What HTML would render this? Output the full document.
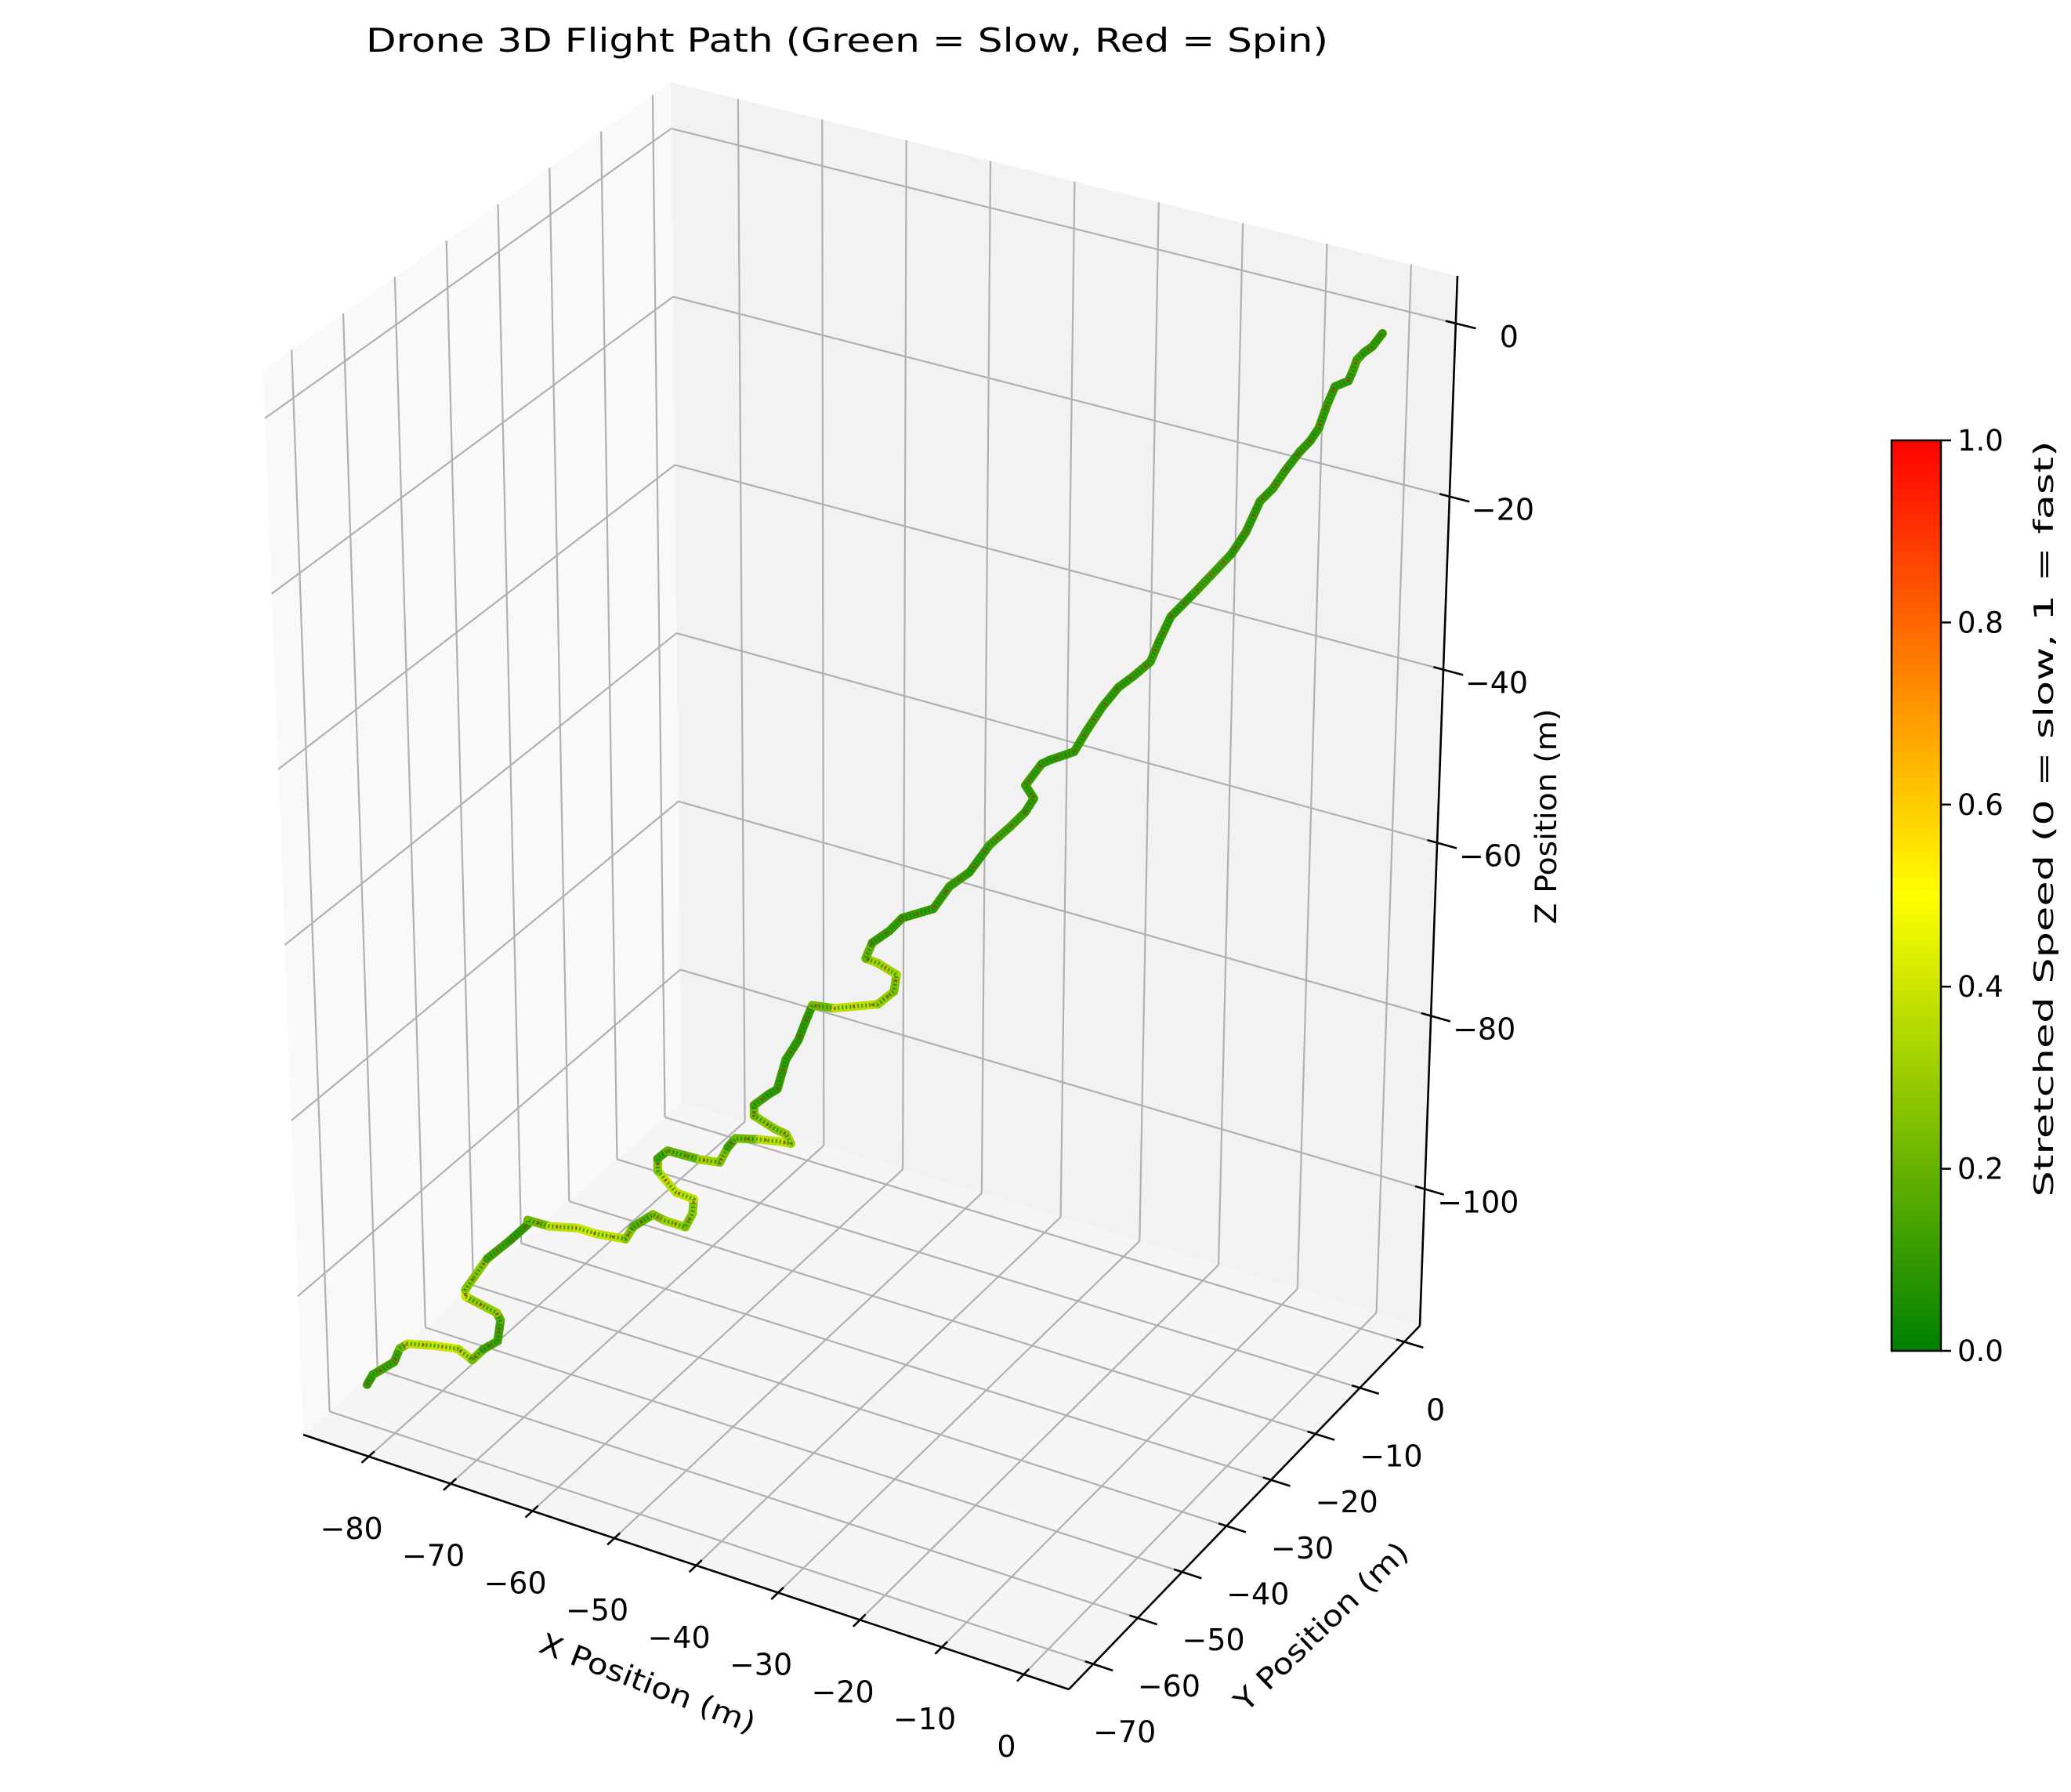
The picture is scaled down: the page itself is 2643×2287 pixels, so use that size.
<!DOCTYPE html>
<html><head><meta charset="utf-8"><style>
html,body{margin:0;padding:0;background:#fff;}
svg{display:block;font-family:"DejaVu Sans","Liberation Sans",sans-serif;}
</style></head><body>
<svg id="chart" width="2643" height="2287" viewBox="0 0 2643 2287" xmlns="http://www.w3.org/2000/svg">
<defs>
<linearGradient id="cbgrad" x1="0" y1="1" x2="0" y2="0">
<stop offset="0" stop-color="#008000"/><stop offset="0.5" stop-color="#ffff00"/><stop offset="1" stop-color="#ff0000"/>
</linearGradient>
</defs>
<text x="1081" y="66" font-size="42" text-anchor="middle" textLength="1228" lengthAdjust="spacingAndGlyphs">Drone 3D Flight Path (Green = Slow, Red = Spin)</text>
<g id="panes"></g>
<g id="grid"></g>
<g id="axes"></g>
<g id="path"></g>
<text font-size="37" text-anchor="middle" transform="translate(822,2160) rotate(21)" textLength="292" lengthAdjust="spacingAndGlyphs">X Position (m)</text>
<text font-size="37" text-anchor="middle" transform="translate(1695,2085) rotate(-44)" textLength="292" lengthAdjust="spacingAndGlyphs">Y Position (m)</text>
<text font-size="37" text-anchor="middle" transform="translate(1986,1042) rotate(-90)" textLength="275" lengthAdjust="spacingAndGlyphs">Z Position (m)</text>
<g>
<rect x="2414" y="562" width="63" height="1162" fill="url(#cbgrad)" stroke="#000" stroke-width="2.5"/>
<g id="cbticks"></g>
<text font-size="34" text-anchor="middle" transform="translate(2620,1045) rotate(-90)" textLength="965" lengthAdjust="spacingAndGlyphs">Stretched Speed (0 = slow, 1 = fast)</text>
</g>
</svg>
<script>
const xTicks = [-80,-70,-60,-50,-40,-30,-20,-10,0];
const yTicks = [-70,-60,-50,-40,-30,-20,-10,0];
const zTicks = [-100,-80,-60,-40,-20,0];
const cbTicks = [0,0.2,0.4,0.6,0.8,1.0];
const xLim = [-88,5.5];
const yLim = [-75.5,3.5];
const zLim = [-115.8,5.5];
const xs = [-82.1,-81.6,-79.9,-79.4,-78.7,-76.7,-74.7,-73.6,-72.7,-71.5,-71.2,-71.5,-74.0,-74.0,-72.2,-70.3,-68.9,-68.9,-67.1,-64.9,-63.3,-61.0,-60.4,-58.8,-57.8,-56.2,-55.6,-55.5,-56.9,-58.4,-58.4,-57.6,-55.0,-53.4,-52.7,-52.1,-50.2,-48.6,-47.6,-48.0,-48.9,-50.6,-50.6,-49.4,-48.7,-48.0,-47.0,-46.4,-45.9,-44.1,-40.6,-39.3,-39.1,-40.6,-41.6,-41.1,-39.7,-38.7,-36.2,-34.9,-33.3,-31.7,-30.1,-28.9,-28.2,-28.9,-27.6,-27.0,-25.0,-24.1,-22.8,-21.5,-20.3,-19.0,-18.3,-17.4,-15.5,-13.9,-12.6,-11.5,-10.4,-9.4,-8.4,-7.3,-6.5,-5.8,-5.2,-4.6,-3.5,-3.2,-2.9,-2.3,-1.7,-0.9];
const ys = [-71.9,-71.5,-69.9,-69.5,-69.0,-67.1,-65.4,-64.4,-63.6,-62.6,-62.4,-62.7,-64.8,-64.8,-63.2,-61.6,-60.3,-60.3,-58.8,-56.8,-55.4,-53.5,-52.9,-51.5,-50.7,-49.2,-48.7,-48.6,-49.9,-51.1,-51.1,-50.4,-48.2,-46.7,-46.2,-45.6,-43.9,-42.6,-41.7,-42.0,-42.9,-44.3,-44.3,-43.3,-42.7,-42.1,-41.2,-40.7,-40.2,-38.6,-35.6,-34.5,-34.3,-35.6,-36.5,-36.0,-34.8,-33.9,-31.7,-30.6,-29.2,-27.8,-26.4,-25.3,-24.7,-25.3,-24.2,-23.6,-21.9,-21.1,-20.0,-18.9,-17.8,-16.6,-16.1,-15.3,-13.6,-12.2,-11.1,-10.1,-9.2,-8.3,-7.4,-6.5,-5.7,-5.2,-4.6,-4.1,-3.2,-2.8,-2.6,-2.1,-1.5,-0.8];
const zs = [-110.0,-108.9,-107.7,-106.2,-105.7,-106.2,-106.8,-108.2,-107.1,-106.3,-103.9,-103.0,-100.9,-100.1,-96.8,-94.9,-93.3,-92.8,-93.7,-94.2,-95.1,-95.9,-94.6,-93.4,-94.2,-95.2,-93.7,-92.1,-91.1,-88.5,-87.1,-86.3,-87.6,-88.2,-86.5,-85.6,-86.0,-86.4,-86.8,-85.7,-84.9,-83.2,-82.0,-80.9,-80.4,-77.1,-75.0,-72.9,-71.2,-71.8,-71.8,-70.5,-68.6,-67.1,-66.4,-64.7,-63.5,-62.2,-61.5,-59.1,-57.7,-54.8,-53.0,-51.5,-50.0,-48.4,-46.1,-45.8,-45.1,-43.0,-40.3,-38.2,-37.1,-35.7,-33.4,-30.7,-28.2,-26.0,-24.2,-21.9,-18.5,-17.2,-15.2,-13.3,-12.2,-10.8,-8.2,-6.2,-5.7,-4.6,-3.4,-2.6,-2.1,-0.7];
const speeds = [0.1,0.1,0.15,0.1,0.35,0.4,0.4,0.3,0.15,0.1,0.15,0.2,0.4,0.4,0.15,0.1,0.1,0.1,0.35,0.4,0.4,0.35,0.2,0.15,0.35,0.3,0.2,0.35,0.4,0.35,0.15,0.1,0.3,0.35,0.15,0.1,0.35,0.4,0.35,0.3,0.25,0.3,0.15,0.1,0.1,0.1,0.1,0.1,0.1,0.35,0.4,0.2,0.3,0.35,0.3,0.1,0.12,0.1,0.1,0.12,0.1,0.1,0.15,0.1,0.1,0.12,0.1,0.1,0.1,0.12,0.1,0.1,0.1,0.12,0.1,0.1,0.1,0.15,0.1,0.1,0.1,0.12,0.1,0.1,0.1,0.1,0.12,0.1,0.1,0.1,0.15,0.1,0.1,0.1];

const C000=[387,1831],C100=[1364,2156],C010=[870,1407],C110=[1812,1692];
const C001=[336,472],C101=[1412,757],C011=[856,105],C111=[1860,352];
function lerp(a,b,t){return [a[0]+(b[0]-a[0])*t,a[1]+(b[1]-a[1])*t];}
function proj(x,y,z){
  const u=(x-xLim[0])/(xLim[1]-xLim[0]), v=(y-yLim[0])/(yLim[1]-yLim[0]), w=(z-zLim[0])/(zLim[1]-zLim[0]);
  const b=lerp(lerp(C000,C100,u),lerp(C010,C110,u),v);
  const t=lerp(lerp(C001,C101,u),lerp(C011,C111,u),v);
  return lerp(b,t,w);
}
const NS='http://www.w3.org/2000/svg';
function mk(tag,attrs,parent){const e=document.createElementNS(NS,tag);for(const k in attrs)e.setAttribute(k,attrs[k]);parent.appendChild(e);return e;}
function line(p,q,attrs,parent){return mk('line',Object.assign({x1:p[0],y1:p[1],x2:q[0],y2:q[1]},attrs),parent);}
function poly(pts,fill,parent){return mk('polygon',{points:pts.map(p=>p.join(',')).join(' '),fill:fill},parent);}
const panes=document.getElementById('panes'), grid=document.getElementById('grid'), axes=document.getElementById('axes'), path=document.getElementById('path');
const [x0,x1]=xLim,[y0,y1]=yLim,[z0,z1]=zLim;
let pe;
pe=poly([proj(x0,y0,z0),proj(x0,y1,z0),proj(x0,y1,z1),proj(x0,y0,z1)],'#f9f9f9',panes);


pe=poly([proj(x0,y1,z0),proj(x1,y1,z0),proj(x1,y1,z1),proj(x0,y1,z1)],'#f2f2f2',panes);


pe=poly([proj(x0,y0,z0),proj(x1,y0,z0),proj(x1,y1,z0),proj(x0,y1,z0)],'#f5f5f5',panes);


const gs={stroke:'#b0b0b0','stroke-width':2.2};
xTicks.forEach(t=>{
  let l=line(proj(t,y0,z0),proj(t,y1,z0),gs,grid);
  
  
  l=line(proj(t,y1,z0),proj(t,y1,z1),gs,grid);
  
  
});
yTicks.forEach(t=>{
  let l=line(proj(x0,t,z0),proj(x1,t,z0),gs,grid);
  
  
  l=line(proj(x0,t,z0),proj(x0,t,z1),gs,grid);
  
  
});
zTicks.forEach(t=>{
  let l=line(proj(x0,y0,t),proj(x0,y1,t),gs,grid);
  
  
  l=line(proj(x0,y1,t),proj(x1,y1,t),gs,grid);
  
  
});
const as={stroke:'#000','stroke-width':2.6};
let al=line(proj(x0,y0,z0),proj(x1,y0,z0),as,axes);


al=line(proj(x1,y0,z0),proj(x1,y1,z0),as,axes);


al=line(proj(x1,y1,z0),proj(x1,y1,z1),as,axes);


function fmt(t){return t<0?'\u2212'+Math.abs(t):String(t);}
xTicks.forEach(t=>{
  const a=proj(t,y0+1.2,z0), b=proj(t,y0-1.5,z0);
  const l=line(a,b,as,axes);
  
  
  const p=proj(t,y0,z0);
  const tx=mk('text',{x:p[0]-22,y:p[1]+105,'font-size':38,'text-anchor':'middle'},axes);
  tx.textContent=fmt(t);
  
  
});
yTicks.forEach(t=>{
  const a=proj(x1-1,t,z0), b=proj(x1+2.4,t,z0);
  const l=line(a,b,as,axes);
  
  
  const p=proj(x1,t,z0);
  const tx=mk('text',{x:p[0]+40,y:p[1]+100,'font-size':38,'text-anchor':'middle'},axes);
  tx.textContent=fmt(t);
  
  
});
zTicks.forEach(t=>{
  const a=proj(x1-1.2,y1,t), b=proj(x1+2.4,y1,t);
  const l=line(a,b,as,axes);
  
  
  const p=proj(x1,y1,t);
  const tx=mk('text',{x:p[0]+68,y:p[1]+30,'font-size':38,'text-anchor':'middle'},axes);
  tx.textContent=fmt(t);
  
  
});
function cmap(s){
  let r,g,b=0;
  if(s<0.5){const k=s/0.5;r=255*k;g=128+127*k;}else{const k=(s-0.5)/0.5;r=255;g=255*(1-k);}
  return 'rgb('+Math.round(r)+','+Math.round(g)+','+b+')';
}
const pts=xs.map((x,i)=>proj(x,ys[i],zs[i]));
for(let i=0;i<pts.length-1;i++){
  const s=(speeds[i]+speeds[i+1])/2;
  const seg=line(pts[i],pts[i+1],{stroke:cmap(s),'stroke-width':11,'stroke-linecap':'round'},path);
  
  
}
const tex=mk('polyline',{points:pts.map(p=>p.join(',')).join(' '),fill:'none',stroke:'#0b7d00','stroke-width':5,'stroke-dasharray':'2 3','stroke-linejoin':'round',opacity:0.7},path);


const spin=mk('polyline',{points:pts.map(p=>p.join(',')).join(' '),fill:'none',stroke:'#ff0000','stroke-width':3,'stroke-dasharray':'2 22','stroke-linejoin':'round',opacity:0.8},path);


const cb=document.getElementById('cbticks');
cbTicks.forEach(t=>{
  const y=1724-t*1162;
  const l=line([2477,y],[2490,y],{stroke:'#000','stroke-width':2.5},cb);
  
  
  const tx=mk('text',{x:2498,y:y+13,'font-size':37},cb);
  tx.textContent=t.toFixed(1);
  
  
});
</script>
</body></html>
